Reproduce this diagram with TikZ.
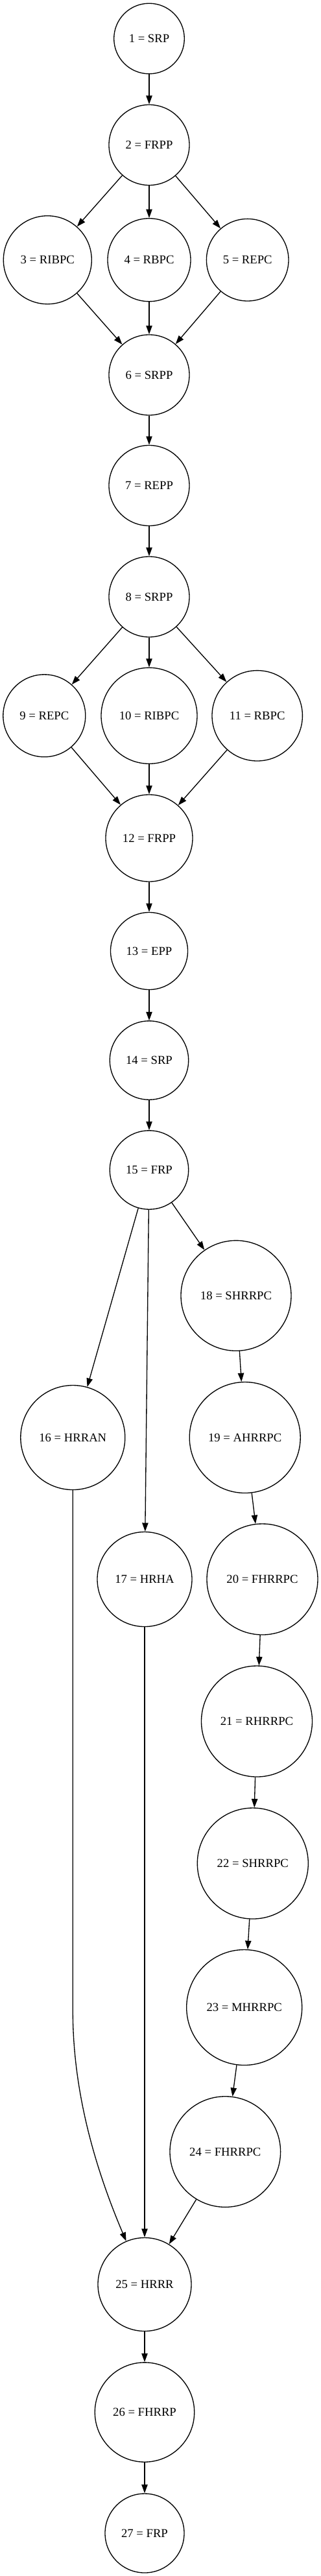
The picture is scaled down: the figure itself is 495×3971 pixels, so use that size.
\documentclass[tikz,border=0pt]{standalone}
\usepackage{fontspec}
\setmainfont{Liberation Serif}
\usetikzlibrary{arrows.meta}
\tikzset{
  st/.style={circle,draw,line width=1pt,inner sep=0pt,minimum size=#1*1.5pt,font=\fontsize{14pt}{16pt}\selectfont},
  arr/.style={line width=1pt,-{Triangle[length=10pt,width=7pt]}}
}
\begin{document}
\begin{tikzpicture}[x=0.75pt,y=-0.75pt]
\useasboundingbox (0,0) rectangle (495,3971);
\node[st=54.3] (n1) at (230,59.5) {1 = SRP};
\node[st=62] (n2) at (230,223.5) {2 = FRPP};
\node[st=68] (n3) at (73.3,400.7) {3 = RIBPC};
\node[st=64] (n4) at (230,400.7) {4 = RBPC};
\node[st=63.3] (n5) at (381.7,400.7) {5 = REPC};
\node[st=62] (n6) at (230,578) {6 = SRPP};
\node[st=62] (n7) at (230,748.5) {7 = REPP};
\node[st=62] (n8) at (230,920) {8 = SRPP};
\node[st=63.5] (n9) at (68.3,1103.3) {9 = REPC};
\node[st=74] (n10) at (230,1103.3) {10 = RIBPC};
\node[st=69.7] (n11) at (396.7,1103.3) {11 = RBPC};
\node[st=67] (n12) at (230,1292) {12 = FRPP};
\node[st=59.5] (n13) at (230,1466) {13 = EPP};
\node[st=60.7] (n14) at (230,1634.5) {14 = SRP};
\node[st=60.7] (n15) at (230,1803.5) {15 = FRP};
\node[st=80.5] (n16) at (112.3,2216) {16 = HRRAN};
\node[st=73] (n17) at (223,2434.5) {17 = HRHA};
\node[st=85] (n18) at (364,1997.3) {18 = SHRRPC};
\node[st=85.5] (n19) at (377.7,2216) {19 = AHRRPC};
\node[st=85.5] (n20) at (404.5,2434.5) {20 = FHRRPC};
\node[st=85.5] (n21) at (396,2653.5) {21 = RHRRPC};
\node[st=85.5] (n22) at (389.8,2872.5) {22 = SHRRPC};
\node[st=89] (n23) at (376.7,3094.5) {23 = MHRRPC};
\node[st=85.3] (n24) at (347.3,3317) {24 = FHRRPC};
\node[st=72] (n25) at (223,3521.5) {25 = HRRR};
\node[st=76.7] (n26) at (223,3718.5) {26 = FHRRP};
\node[st=61] (n27) at (223,3905) {27 = FRP};
\coordinate (bend) at (112.3,3100);
\draw[arr] (n1) -- (n2);
\draw[arr] (n2) -- (n3);
\draw[arr] (n2) -- (n4);
\draw[arr] (n2) -- (n5);
\draw[arr] (n3) -- (n6);
\draw[arr] (n4) -- (n6);
\draw[arr] (n5) -- (n6);
\draw[arr] (n6) -- (n7);
\draw[arr] (n7) -- (n8);
\draw[arr] (n8) -- (n9);
\draw[arr] (n8) -- (n10);
\draw[arr] (n8) -- (n11);
\draw[arr] (n9) -- (n12);
\draw[arr] (n10) -- (n12);
\draw[arr] (n11) -- (n12);
\draw[arr] (n12) -- (n13);
\draw[arr] (n13) -- (n14);
\draw[arr] (n14) -- (n15);
\draw[arr] (n15) -- (n16);
\draw[arr] (n15) -- (n17);
\draw[arr] (n15) -- (n18);
\draw[arr] (n18) -- (n19);
\draw[arr] (n19) -- (n20);
\draw[arr] (n20) -- (n21);
\draw[arr] (n21) -- (n22);
\draw[arr] (n22) -- (n23);
\draw[arr] (n23) -- (n24);
\draw[arr] (n16.south) -- (bend) .. controls (112.3,3230) and (150,3350) .. (n25);
\draw[arr] (n17) -- (n25);
\draw[arr] (n24) -- (n25);
\draw[arr] (n25) -- (n26);
\draw[arr] (n26) -- (n27);
\end{tikzpicture}
\end{document}
